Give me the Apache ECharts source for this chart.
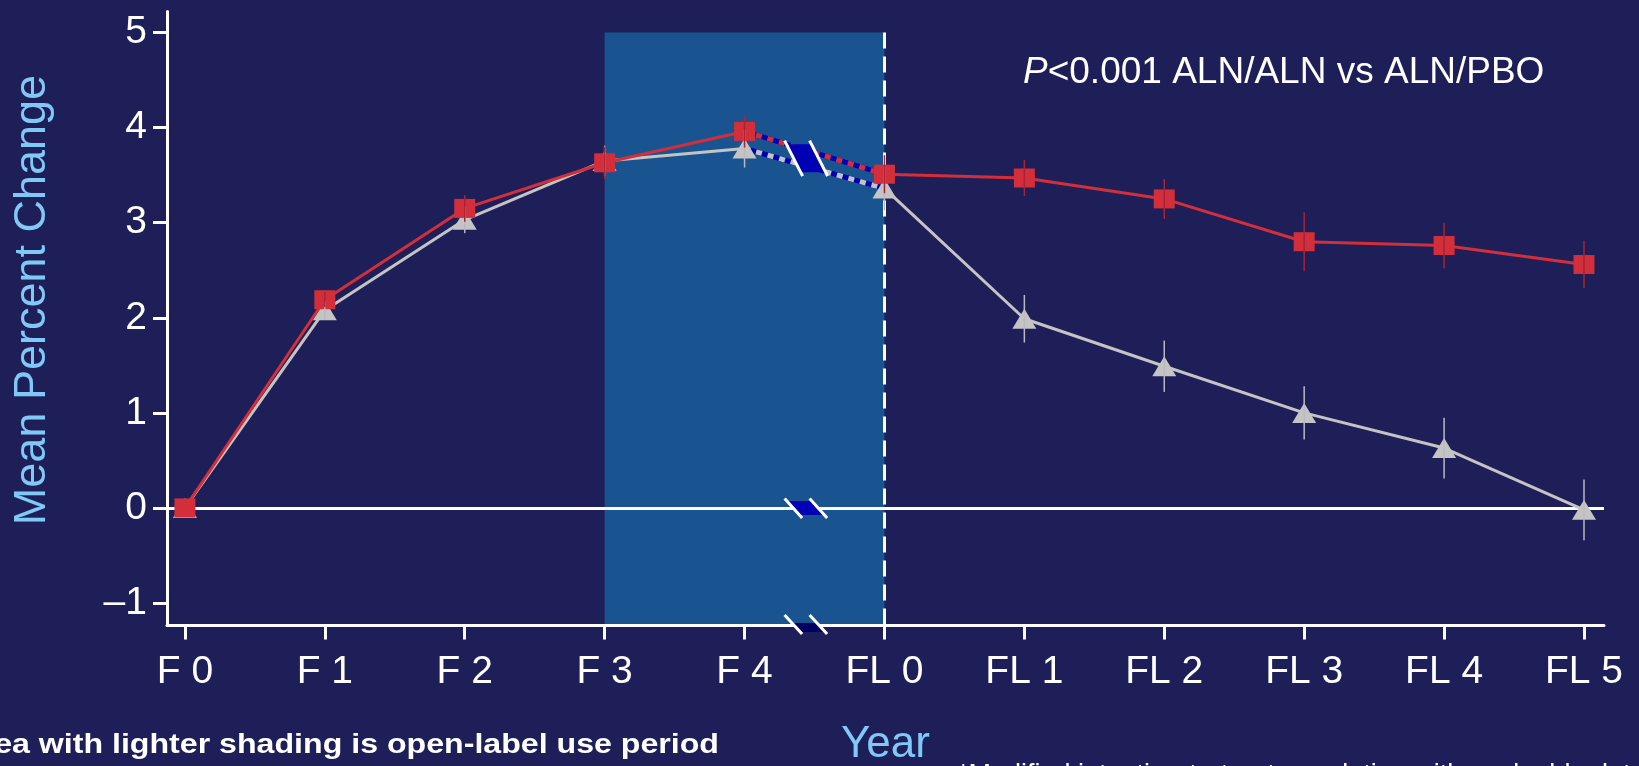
<!DOCTYPE html>
<html>
<head>
<meta charset="utf-8">
<script src="https://cdn.jsdelivr.net/npm/echarts@6/dist/echarts.min.js"></script>
<style>
html,body{margin:0;padding:0;background:#1e1f58;}
#chart{width:1639px;height:766px;}
</style>
</head>
<body>
<div id="chart"></div>
<script>
// ---- data ----
const categories = ['F 0','F 1','F 2','F 3','F 4','FL 0','FL 1','FL 2','FL 3','FL 4','FL 5'];
const alnAln    = [0, 2.19, 3.15, 3.63, 3.96, 3.51, 3.47, 3.25, 2.80, 2.76, 2.56];
const alnAlnErr = [0, 0.08, 0.14, 0.17, 0.17, 0.20, 0.19, 0.21, 0.31, 0.24, 0.25];
const alnPbo    = [0, 2.08, 3.03, 3.65, 3.78, 3.36, 1.99, 1.49, 1.00, 0.63, -0.02];
const alnPboErr = [0, 0.10, 0.14, 0.16, 0.20, 0.23, 0.25, 0.27, 0.28, 0.32, 0.32];
const yTickValues = [-1, 0, 1, 2, 3, 4, 5];
const openLabelStart = 3;   // F 3
const openLabelEnd = 5;     // FL 0
const breakAt = 4.44;       // axis break between F 4 and FL 0

// ---- styling constants ----
const BG = '#1e1f58', SHADE = '#1a5490', RED = '#d22f3a', GRAY = '#c4c4c4';
const BREAK_BLUE = '#0000b4', BREAK_DARK = '#000062', LIGHTBLUE = '#80c8f5';
const FONT = 'Liberation Sans, Arial, sans-serif';
const yMin = -1.235, yMax = 5.22, xMin = -0.128, xMax = 10.143;

const pts = (arr, from, to) => arr.slice(from, to + 1).map((v, k) => [from + k, v]);
const errData = (arr, err) => arr.map((v, i) => [i, v - err[i], v + err[i]]);

function lerpAt(arr, x) {
  const i = Math.floor(x), t = x - i;
  return arr[i] + t * (arr[i + 1] - arr[i]);
}
const breakY = (lerpAt(alnAln, breakAt) + lerpAt(alnPbo, breakAt)) / 2;

function errorBarSeries(arr, err, color, z) {
  return {
    type: 'custom', z: z, silent: true,
    data: errData(arr, err),
    renderItem: function (params, api) {
      const lo = api.coord([api.value(0), api.value(1)]);
      const hi = api.coord([api.value(0), api.value(2)]);
      return { type: 'line', shape: { x1: lo[0], y1: lo[1], x2: hi[0], y2: hi[1] },
               style: { stroke: color, lineWidth: 1.5 } };
    }
  };
}

function solidLine(arr, from, to, color, symbol, size, z) {
  return {
    type: 'line', z: z, silent: true, data: pts(arr, from, to),
    symbol: symbol, symbolSize: size, showAllSymbol: true,
    itemStyle: { color: color, borderWidth: 0 },
    lineStyle: { color: color, width: 3 }
  };
}
function dottedLine(arr, color, z) {
  return [
    { type: 'line', z: z, silent: true, data: pts(arr, 4, 5), symbol: 'none',
      lineStyle: { color: BREAK_BLUE, width: 5 } },
    { type: 'line', z: z + 0.1, silent: true, data: pts(arr, 4, 5), symbol: 'none',
      lineStyle: { color: color, width: 5, type: [6, 6] } }
  ];
}

function breakMark(cx, cy, yTop, yBot, dx, fTop, fBot, fill) {
  const offs = [-21.5, 3.5];
  const xAt = (o, y) => cx + o + dx * (y - yTop) / (yBot - yTop);
  const children = [{
    type: 'polygon',
    shape: { points: [[xAt(offs[0], fTop), cy + fTop], [xAt(offs[1], fTop), cy + fTop],
                      [xAt(offs[1], fBot), cy + fBot], [xAt(offs[0], fBot), cy + fBot]] },
    style: { fill: fill }
  }];
  offs.forEach(o => children.push({
    type: 'line',
    shape: { x1: cx + o, y1: cy + yTop, x2: cx + o + dx, y2: cy + yBot },
    style: { stroke: '#ffffff', lineWidth: 3 }
  }));
  return children;
}

const chart = echarts.init(document.getElementById('chart'), null, { renderer: 'canvas' });
const option = {
  backgroundColor: BG,
  animation: false,
  title: {
    text: '{i|P}<0.001 ALN/ALN vs ALN/PBO',
    left: 1023, top: 54, padding: 0,
    textStyle: { color: '#ffffff', fontSize: 37, fontWeight: 'normal', fontFamily: FONT,
      rich: { i: { fontStyle: 'italic', fontSize: 37, color: '#ffffff', fontFamily: FONT } } }
  },
  grid: { left: 167, right: 35, top: 11.6, bottom: 140.6, containLabel: false, outerBoundsMode: 'none' },
  xAxis: {
    type: 'value', min: xMin, max: xMax, z: 1,
    name: 'Year', nameLocation: 'middle', nameGap: 97,
    nameTextStyle: { color: LIGHTBLUE, fontSize: 44, fontFamily: FONT },
    axisLine: { show: true, onZero: false, lineStyle: { color: '#ffffff', width: 3 } },
    axisTick: { show: true, inside: false, length: 14, lineStyle: { color: '#ffffff', width: 3 },
                customValues: categories.map((c, i) => i) },
    axisLabel: { color: '#ffffff', fontSize: 39, fontFamily: FONT, margin: 27,
                 customValues: categories.map((c, i) => i),
                 formatter: v => categories[Math.round(v)] },
    splitLine: { show: false }
  },
  yAxis: {
    type: 'value', min: yMin, max: yMax, z: 1,
    axisLine: { show: true, onZero: false, lineStyle: { color: '#ffffff', width: 3 } },
    axisTick: { show: true, inside: false, length: 14, lineStyle: { color: '#ffffff', width: 3 },
                customValues: yTickValues },
    axisLabel: { color: '#ffffff', fontSize: 39, fontFamily: FONT, margin: 20,
                 customValues: yTickValues,
                 formatter: v => (v < 0 ? '\u2013' + Math.abs(v) : String(v)) },
    splitLine: { show: false }
  },
  graphic: [
    { type: 'text', x: 33, y: 300, rotation: Math.PI / 2, silent: true,
      style: { text: 'Mean Percent Change', fill: LIGHTBLUE, fontSize: 45, fontFamily: FONT,
               align: 'center', verticalAlign: 'middle' } },
    { type: 'text', x: 719, y: 746, scaleX: 1.19, silent: true,
      style: { text: 'Area with lighter shading is open-label use period', fill: '#ffffff',
               fontSize: 27, fontWeight: 'bold', fontFamily: FONT, align: 'right', verticalAlign: 'middle' } },
    { type: 'text', x: 958, y: 762, silent: true,
      style: { text: '*Modified intention-to-treat population with evaluable data', fill: '#ffffff',
               fontSize: 27, fontFamily: FONT, align: 'left', verticalAlign: 'top' } }
  ],
  series: [
    {
      type: 'line', data: [], silent: true, z: 0,
      markArea: { silent: true, z: 0, itemStyle: { color: SHADE },
        data: [[{ coord: [openLabelStart, 5] }, { coord: [openLabelEnd, yMin] }]] },
      markLine: { silent: true, z: 1, symbol: 'none', label: { show: false },
        data: [
          [{ coord: [xMin, 0], lineStyle: { color: '#ffffff', width: 3, type: 'solid' } }, { coord: [xMax, 0] }],
          [{ coord: [openLabelEnd, 5], lineStyle: { color: '#ffffff', width: 3, type: [16, 8] } }, { coord: [openLabelEnd, yMin] }]
        ] }
    },
    ...dottedLine(alnPbo, GRAY, 2),
    ...dottedLine(alnAln, RED, 2.5),
    solidLine(alnPbo, 0, 4, GRAY, 'triangle', [24, 20], 3),
    solidLine(alnPbo, 5, 10, GRAY, 'triangle', [24, 20], 3),
    solidLine(alnAln, 0, 4, RED, 'rect', [21, 19], 4),
    solidLine(alnAln, 5, 10, RED, 'rect', [21, 19], 4),
    errorBarSeries(alnPbo, alnPboErr, '#b9b9c2', 5),
    errorBarSeries(alnAln, alnAlnErr, '#a82336', 5.1),
    {
      type: 'custom', z: 6, silent: true, clip: false,
      data: [[breakAt, breakY]],
      renderItem: function (params, api) {
        const bx = api.value(0);
        const pLine = api.coord([bx, api.value(1)]);
        const pZero = api.coord([bx, 0]);
        const pBot = api.coord([bx, yMin]);
        const cx = pLine[0];
        return { type: 'group', children: [
          ...breakMark(cx, pLine[1], -17.5, 18, 18, -14, 14, BREAK_BLUE),
          ...breakMark(cx, pZero[1], -9.5, 10, 17.5, -7, 7, BREAK_BLUE),
          ...breakMark(cx, pBot[1], -10.5, 8.5, 17.5, -2.5, 6.5, BREAK_DARK)
        ] };
      }
    }
  ]
};
chart.setOption(option);
</script>
</body>
</html>
